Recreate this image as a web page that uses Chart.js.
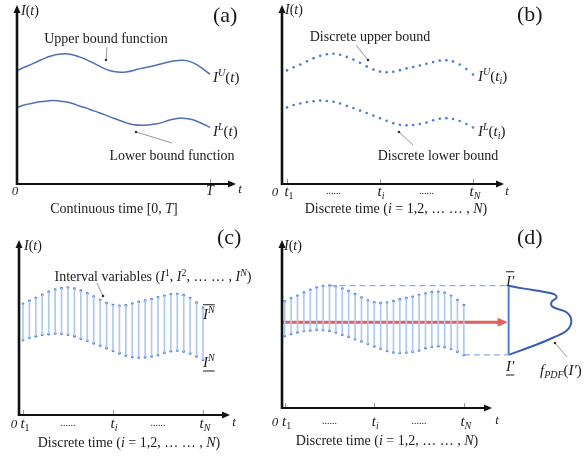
<!DOCTYPE html>
<html>
<head>
<meta charset="utf-8">
<script src="https://cdn.jsdelivr.net/npm/chart.js@4.4.0/dist/chart.umd.min.js"></script>
<style>
  body { margin: 0; background: #fff; }
  #wrap { position: relative; width: 587px; height: 457px; overflow: hidden; }
  canvas { position: absolute; }
</style>
</head>
<body>
<div id="wrap">
  <canvas id="panelA" width="270" height="225" style="left:0;top:0"></canvas>
  <canvas id="panelB" width="317" height="225" style="left:270px;top:0"></canvas>
  <canvas id="panelC" width="270" height="232" style="left:0;top:225px"></canvas>
  <canvas id="panelD" width="317" height="232" style="left:270px;top:225px"></canvas>
</div>
<script>
// time index i = 1..N
const timeIdx = [1, 2, 3, 4, 5, 6, 7, 8, 9, 10, 11, 12, 13, 14, 15, 16, 17, 18, 19, 20, 21, 22, 23, 24, 25, 26, 27, 28, 29];
// upper / lower bound of I(t) at each t_i
const upperBound = [6.35, 6.52, 6.68, 6.86, 7.03, 7.16, 7.25, 7.28, 7.22, 7.10, 6.95, 6.77, 6.57, 6.39, 6.28, 6.24, 6.27, 6.36, 6.46, 6.54, 6.62, 6.72, 6.81, 6.89, 6.91, 6.85, 6.68, 6.42, 6.12];
const lowerBound = [4.28, 4.41, 4.50, 4.58, 4.62, 4.66, 4.64, 4.59, 4.50, 4.36, 4.24, 4.10, 3.97, 3.82, 3.67, 3.53, 3.40, 3.31, 3.28, 3.30, 3.35, 3.43, 3.56, 3.65, 3.68, 3.63, 3.52, 3.35, 3.16];
// ticks shown on the time axis
const tickT1 = 1, tickTi = 15, tickTN = 29;
// pdf of I' drawn beside panel (d)
const pdfLevels = [7.28, 7.12, 6.80, 6.58, 6.30, 6.02, 5.68, 5.18, 4.62, 4.18, 3.78, 3.16];
const pdfDensity = [0, 0.22, 0.69, 0.75, 0.67, 0.69, 0.91, 0.98, 0.91, 0.69, 0.44, 0];
const pdfAt = 36;        // time position of the pdf baseline
const pdfSpan = 10;      // width of density 1 in time units
const refLevel = 5.1;    // red arrow level

const SERIF = '"Liberation Serif", "DejaVu Serif", serif';
const pts = ys => timeIdx.map((t, k) => ({ x: t, y: ys[k] }));

// draws text made of roman / italic / sup / sub pieces, y is the baseline
function richText(ctx, parts, x, y, size, align) {
  const font = (st, sz) => (st.includes('i') ? 'italic ' : '') + sz + 'px ' + SERIF;
  let w = 0;
  const segs = parts.map(([s, st]) => {
    const sz = /[\^_]/.test(st) ? Math.round(size * 0.68) : size;
    ctx.font = font(st, sz);
    const m = ctx.measureText(s).width;
    w += m;
    return { s, st, sz, m };
  });
  let cx = align === 'center' ? x - w / 2 : align === 'right' ? x - w : x;
  const x0 = cx;
  ctx.textAlign = 'left';
  ctx.textBaseline = 'alphabetic';
  segs.forEach(g => {
    ctx.font = font(g.st, g.sz);
    const dy = g.st.includes('^') ? -size * 0.38 : g.st.includes('_') ? size * 0.22 : 0;
    ctx.fillText(g.s, cx, y + dy);
    cx += g.m;
  });
  return { x0, w };
}

const schematic = {
  id: 'schematic',
  afterDraw(chart, args, o) {
    const ctx = chart.ctx;
    const { left, right, top, bottom } = chart.chartArea;
    const sx = chart.scales.x, sy = chart.scales.y;
    ctx.save();

    // red arrow head
    if (o.arrowHead) {
      const px = sx.getPixelForValue(pdfAt) - 1, py = sy.getPixelForValue(refLevel);
      ctx.fillStyle = 'rgba(222,86,86,0.95)';
      ctx.beginPath();
      ctx.moveTo(px, py);
      ctx.lineTo(px - 10, py - 4.5);
      ctx.lineTo(px - 10, py + 4.5);
      ctx.closePath();
      ctx.fill();
    }

    // leader lines with a dot on the curve end
    (o.leaders || []).forEach(([x1, y1, x2, y2]) => {
      ctx.strokeStyle = '#8a8a8a';
      ctx.lineWidth = 0.9;
      ctx.beginPath();
      ctx.moveTo(x1, y1);
      ctx.lineTo(x2, y2);
      ctx.stroke();
      ctx.fillStyle = '#333';
      ctx.beginPath();
      ctx.arc(x2, y2, 1.3, 0, Math.PI * 2);
      ctx.fill();
    });

    // axes with arrow heads
    ctx.strokeStyle = '#111';
    ctx.fillStyle = '#111';
    ctx.lineWidth = 2.6;
    ctx.beginPath();
    ctx.moveTo(left, bottom + 1);
    ctx.lineTo(left, top + 6);
    ctx.stroke();
    ctx.beginPath();
    ctx.moveTo(left, top);
    ctx.lineTo(left - 3.5, top + 8);
    ctx.lineTo(left + 3.5, top + 8);
    ctx.closePath();
    ctx.fill();
    ctx.lineWidth = 2;
    ctx.beginPath();
    ctx.moveTo(left - 1, bottom);
    ctx.lineTo(right - 6, bottom);
    ctx.stroke();
    ctx.beginPath();
    ctx.moveTo(right, bottom);
    ctx.lineTo(right - 8, bottom - 3.5);
    ctx.lineTo(right - 8, bottom + 3.5);
    ctx.closePath();
    ctx.fill();

    // small tick marks
    ctx.strokeStyle = '#999';
    ctx.lineWidth = 1;
    (o.ticks || []).forEach(v => {
      const px = Math.round(sx.getPixelForValue(v)) + 0.5;
      ctx.beginPath();
      ctx.moveTo(px, bottom - 1);
      ctx.lineTo(px, bottom - 5);
      ctx.stroke();
    });

    ctx.fillStyle = '#1a1a1a';
    (o.tickLabels || []).forEach(l => {
      richText(ctx, l.p, sx.getPixelForValue(l.at) + (l.dx || 0), o.tickY + (l.dy || 0), l.s || 15, 'center');
    });

    (o.texts || []).forEach(t => {
      const r = richText(ctx, t.p, t.x, t.y, t.s || 14, t.a || 'left');
      if (t.over || t.under) {
        const ly = t.over ? t.y - (t.s || 14) * 0.95 : t.y + 4;
        ctx.strokeStyle = '#1a1a1a';
        ctx.lineWidth = 1;
        ctx.beginPath();
        ctx.moveTo(r.x0, ly);
        ctx.lineTo(r.x0 + r.w, ly);
        ctx.stroke();
      }
    });
    ctx.restore();
  }
};
Chart.register(schematic);

function baseOptions(pad, xMin, xMax, cfg) {
  return {
    responsive: false,
    animation: false,
    devicePixelRatio: 1,
    layout: { padding: pad },
    scales: {
      x: { type: 'linear', display: false, min: xMin, max: xMax, offset: false },
      y: { type: 'linear', display: false, min: 0, max: 10 }
    },
    plugins: { legend: { display: false }, tooltip: { enabled: false }, schematic: cfg }
  };
}

const dotsBetween = [
  { at: (tickT1 + tickTi) / 2, p: [['......', '']], s: 10, dy: -2 },
  { at: (tickTi + tickTN) / 2, p: [['......', '']], s: 10, dy: -2 }
];
const discreteTicks = [
  { at: tickT1, p: [['t', 'i'], ['1', '_']], dx: 2 },
  { at: tickTi, p: [['t', 'i'], ['i', 'i_']], dx: 1 },
  { at: tickTN, p: [['t', 'i'], ['N', 'i_']], dx: 2 }
].concat(dotsBetween);
const discreteTitle = [['Discrete time (', ''], ['i', 'i'], [' = 1,2, … … , ', ''], ['N', 'i'], [')', '']];
const It = [['I', 'i'], ['(', ''], ['t', 'i'], [')', '']];

// (a) continuous bounds
new Chart(document.getElementById('panelA'), {
  type: 'scatter',
  data: {
    datasets: [
      { data: pts(upperBound), showLine: true, borderColor: '#4d6fb8', borderWidth: 1.5, pointRadius: 0, tension: 0.4 },
      { data: pts(lowerBound), showLine: true, borderColor: '#4d6fb8', borderWidth: 1.5, pointRadius: 0, tension: 0.4 }
    ]
  },
  options: baseOptions({ left: 17, top: 5, right: 34, bottom: 41 }, 0.93, 32.78, {
    ticks: [tickTN],
    tickY: 195,
    tickLabels: [{ at: tickTN, p: [['T', 'i']], s: 14 }],
    leaders: [[107, 47, 106, 60], [172, 143, 136, 132]],
    texts: [
      { p: It, x: 21, y: 15 },
      { p: [['(a)', '']], x: 213, y: 22, s: 22 },
      { p: [['Upper bound function', '']], x: 106, y: 43, a: 'center' },
      { p: [['I', 'i'], ['U', 'i^'], ['(', ''], ['t', 'i'], [')', '']], x: 213, y: 82, s: 15 },
      { p: [['I', 'i'], ['L', 'i^'], ['(', ''], ['t', 'i'], [')', '']], x: 213, y: 136, s: 15 },
      { p: [['Lower bound function', '']], x: 172, y: 160, a: 'center' },
      { p: [['0', 'i']], x: 15, y: 195, s: 13, a: 'center' },
      { p: [['t', 'i']], x: 240, y: 193, s: 13, a: 'center' },
      { p: [['Continuous time [0, ', ''], ['T', 'i'], [']', '']], x: 114, y: 213, a: 'center' }
    ]
  })
});

// (b) discrete bounds
new Chart(document.getElementById('panelB'), {
  type: 'scatter',
  data: {
    datasets: [
      { data: pts(upperBound), pointRadius: 1.3, pointBorderWidth: 0, pointBackgroundColor: '#4a7ddb' },
      { data: pts(lowerBound), pointRadius: 1.3, pointBorderWidth: 0, pointBackgroundColor: '#4a7ddb' }
    ]
  },
  options: baseOptions({ left: 12, top: 5, right: 83, bottom: 41 }, 0.247, 33.67, {
    ticks: [tickT1, tickTi, tickTN],
    tickY: 196,
    tickLabels: discreteTicks,
    leaders: [[86, 45, 98, 60], [143, 145, 129, 132]],
    texts: [
      { p: It, x: 15, y: 14 },
      { p: [['(b)', '']], x: 247, y: 21, s: 22 },
      { p: [['Discrete upper bound', '']], x: 100, y: 41, a: 'center' },
      { p: [['I', 'i'], ['U', 'i^'], ['(', ''], ['t', 'i'], ['i', 'i_'], [')', '']], x: 208, y: 81, s: 15 },
      { p: [['I', 'i'], ['L', 'i^'], ['(', ''], ['t', 'i'], ['i', 'i_'], [')', '']], x: 208, y: 136, s: 15 },
      { p: [['Discrete lower bound', '']], x: 168, y: 160, a: 'center' },
      { p: [['0', 'i']], x: 5, y: 196, s: 13, a: 'center' },
      { p: [['t', 'i']], x: 237, y: 195, s: 13, a: 'center' },
      { p: discreteTitle, x: 126, y: 213, a: 'center' }
    ]
  })
});

const intervalBars = timeIdx.map((t, k) => ({ x: t, y: [lowerBound[k], upperBound[k]] }));
const barSet = { type: 'bar', data: intervalBars, backgroundColor: '#adc8f3', barThickness: 1, borderWidth: 0, borderSkipped: false };
const endDots = ys => ({ type: 'scatter', data: pts(ys), pointRadius: 1.4, pointBorderWidth: 0, pointBackgroundColor: '#4677d6' });

// (c) interval variables
new Chart(document.getElementById('panelC'), {
  type: 'bar',
  data: { datasets: [barSet, endDots(upperBound), endDots(lowerBound)] },
  options: baseOptions({ left: 19, top: 15, right: 40, bottom: 42 }, 0.38, 33.2, {
    ticks: [tickT1, tickTi, tickTN],
    tickY: 203,
    tickLabels: discreteTicks,
    leaders: [[97, 58, 103, 71]],
    texts: [
      { p: It, x: 24, y: 25 },
      { p: [['(c)', '']], x: 217, y: 19, s: 22 },
      { p: [['Interval variables (', ''], ['I', 'i'], ['1', '^'], [', ', ''], ['I', 'i'], ['2', '^'], [', … … , ', ''], ['I', 'i'], ['N', 'i^'], [')', '']], x: 153, y: 56, a: 'center' },
      { p: [['I', 'i'], ['N', 'i^']], x: 203, y: 94, s: 15, over: true },
      { p: [['I', 'i'], ['N', 'i^']], x: 203, y: 142, s: 15, under: true },
      { p: [['0', 'i']], x: 14, y: 203, s: 13, a: 'center' },
      { p: [['t', 'i']], x: 234, y: 201, s: 13, a: 'center' },
      { p: discreteTitle, x: 129, y: 222, a: 'center' }
    ]
  })
});

// (d) interval -> pdf of I'
const maxUpper = Math.max(...upperBound), minLower = Math.min(...lowerBound);
const peakAt = timeIdx[upperBound.indexOf(maxUpper)], lowAt = timeIdx[lowerBound.indexOf(minLower)];
const pdfCurve = pdfLevels.map((v, k) => ({ x: pdfAt + pdfDensity[k] * pdfSpan, y: v }));
const lineSet = (data, color, width, dash) => ({
  type: 'scatter', data, showLine: true, borderColor: color, borderWidth: width,
  borderDash: dash || [], pointRadius: 0, clip: false
});

new Chart(document.getElementById('panelD'), {
  type: 'bar',
  data: {
    datasets: [
      barSet, endDots(upperBound), endDots(lowerBound),
      lineSet([{ x: peakAt, y: maxUpper }, { x: pdfAt, y: maxUpper }], '#86abeb', 1.2, [6, 4]),
      lineSet([{ x: lowAt, y: minLower }, { x: pdfAt, y: minLower }], '#86abeb', 1.2, [6, 4]),
      lineSet([{ x: 0.58, y: refLevel }, { x: pdfAt - 1.4, y: refLevel }], 'rgba(222,86,86,0.95)', 3),
      lineSet([{ x: pdfAt, y: minLower }, { x: pdfAt, y: maxUpper }], '#4b7fd6', 2),
      Object.assign(lineSet(pdfCurve, '#3a5eae', 2), { tension: 0.4 })
    ]
  },
  options: baseOptions({ left: 12, top: 15, right: 95, bottom: 49 }, 0.58, 33.4, {
    arrowHead: true,
    ticks: [tickT1, tickTi, tickTN],
    tickY: 201,
    tickLabels: discreteTicks,
    leaders: [[297, 132, 285, 118]],
    texts: [
      { p: It, x: 14, y: 25 },
      { p: [['(d)', '']], x: 247, y: 19, s: 22 },
      { p: [['I', 'i'], ["'", 'i']], x: 236, y: 61, s: 15, over: true },
      { p: [['I', 'i'], ["'", 'i']], x: 236, y: 146, s: 15, under: true },
      { p: [['f', 'i'], ['PDF', 'i_'], ['(', ''], ['I', 'i'], ["'", 'i'], [')', '']], x: 270, y: 150, s: 15 },
      { p: [['0', 'i']], x: 5, y: 201, s: 13, a: 'center' },
      { p: [['t', 'i']], x: 227, y: 199, s: 13, a: 'center' },
      { p: discreteTitle, x: 117, y: 220, a: 'center' }
    ]
  })
});
</script>
</body>
</html>
